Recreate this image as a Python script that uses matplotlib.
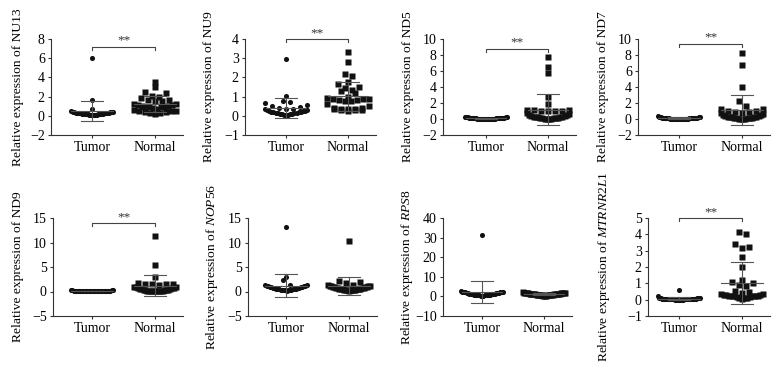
import matplotlib
matplotlib.use('Agg')
import matplotlib.pyplot as plt
import numpy as np

plt.rcParams['font.family'] = ['Liberation Serif', 'DejaVu Serif']
plt.rcParams['mathtext.fontset'] = 'custom'
plt.rcParams['mathtext.rm'] = 'Liberation Serif'
plt.rcParams['mathtext.it'] = 'Liberation Serif:italic'

groups = ['Tumor', 'Normal']

genes = ['NU13', 'NU9', 'ND5', 'ND7', 'ND9',
         r'$\mathit{NOP56}$', r'$\mathit{RPS8}$', r'$\mathit{MTRNR2L1}$']

# y tick ranges (min, max, step)
yticks_spec = [(-2, 8, 2), (-1, 4, 1), (-2, 10, 2), (-2, 10, 2),
               (-5, 15, 5), (-5, 15, 5), (-10, 40, 10), (-1, 5, 1)]

signif = [True, True, True, True, True, False, False, True]

nu13_tumor = [6.0, 1.6, 0.7, 0.45, 0.42, 0.4, 0.38, 0.36, 0.35, 0.33, 0.32, 0.3, 0.29, 0.28, 0.26, 0.25,
              0.24, 0.22, 0.21, 0.2, 0.19, 0.18, 0.17, 0.16, 0.15, 0.14, 0.13, 0.12, 0.11, 0.1, 0.08, 0.06]
nu13_normal = [3.5, 3.0, 2.5, 2.4, 2.1, 2.0, 1.9, 1.6, 1.6, 1.5, 1.5, 1.25, 1.2, 1.15, 1.1, 1.0,
               0.98, 0.95, 0.92, 0.9, 0.88, 0.85, 0.7, 0.6, 0.55, 0.5, 0.45, 0.4, 0.35, 0.3, 0.25, 0.2]

nu9_tumor = [2.95, 1.05, 0.78, 0.72, 0.65, 0.55, 0.5, 0.48, 0.42, 0.38, 0.35, 0.33, 0.3, 0.28, 0.27, 0.25,
             0.23, 0.22, 0.2, 0.19, 0.18, 0.16, 0.15, 0.14, 0.12, 0.11, 0.1, 0.09, 0.08, 0.06, 0.05, 0.04]
nu9_normal = [3.3, 2.8, 2.2, 2.05, 1.75, 1.65, 1.5, 1.45, 1.35, 1.3, 1.2, 1.0, 0.95, 0.9, 0.88, 0.85,
              0.82, 0.8, 0.78, 0.75, 0.6, 0.5, 0.42, 0.4, 0.38, 0.36, 0.35, 0.33, 0.32, 0.3, 0.28, 0.25]

nd5_tumor = [0.3, 0.28, 0.25, 0.22, 0.2, 0.18, 0.16, 0.15, 0.14, 0.13, 0.12, 0.11, 0.1, 0.09, 0.09, 0.08,
             0.07, 0.07, 0.06, 0.06, 0.05, 0.05, 0.04, 0.04, 0.03, 0.03, 0.02, 0.02, 0.02, 0.01, 0.01, 0.01]
nd5_normal = [7.8, 6.5, 5.7, 2.8, 1.9, 1.15, 1.1, 1.1, 1.05, 1.0, 1.0, 0.95, 0.7, 0.6, 0.5, 0.45,
              0.4, 0.35, 0.3, 0.28, 0.25, 0.22, 0.2, 0.18, 0.15, 0.12, 0.1, 0.08, 0.06, 0.05, 0.03, 0.02]

nd7_tumor = [0.35, 0.3, 0.25, 0.22, 0.2, 0.18, 0.17, 0.15, 0.14, 0.13, 0.12, 0.11, 0.1, 0.1, 0.09, 0.08,
             0.08, 0.07, 0.06, 0.06, 0.05, 0.05, 0.04, 0.04, 0.03, 0.03, 0.02, 0.02, 0.02, 0.01, 0.01, 0.01]
nd7_normal = [8.2, 6.8, 4.0, 2.3, 1.6, 1.3, 1.2, 1.0, 0.95, 0.9, 0.85, 0.8, 0.7, 0.6, 0.5, 0.45,
              0.4, 0.35, 0.3, 0.28, 0.25, 0.22, 0.2, 0.18, 0.15, 0.12, 0.1, 0.08, 0.06, 0.05, 0.03, 0.02]

nd9_tumor = [0.3, 0.28, 0.25, 0.22, 0.2, 0.18, 0.16, 0.15, 0.14, 0.13, 0.12, 0.11, 0.1, 0.09, 0.09, 0.08,
             0.07, 0.07, 0.06, 0.06, 0.05, 0.05, 0.04, 0.04, 0.03, 0.03, 0.02, 0.02, 0.02, 0.01, 0.01, 0.01]
nd9_normal = [11.3, 5.4, 3.0, 1.7, 1.6, 1.5, 1.5, 1.45, 1.4, 1.0, 0.9, 0.85, 0.8, 0.7, 0.65, 0.6,
              0.5, 0.45, 0.4, 0.35, 0.3, 0.3, 0.25, 0.2, 0.2, 0.15, 0.12, 0.1, 0.08, 0.05, 0.03, 0.02]

nop56_tumor = [13.2, 3.0, 2.3, 1.35, 1.3, 1.25, 1.2, 1.15, 1.1, 1.05, 1.0, 0.95, 0.9, 0.85, 0.8, 0.75,
               0.7, 0.65, 0.6, 0.55, 0.5, 0.5, 0.45, 0.45, 0.4, 0.4, 0.35, 0.35, 0.3, 0.3, 0.25, 0.2]
nop56_normal = [10.4, 2.1, 1.9, 1.8, 1.4, 1.25, 1.2, 1.15, 1.1, 1.05, 1.0, 0.95, 0.9, 0.85, 0.8, 0.75,
                0.7, 0.65, 0.6, 0.55, 0.5, 0.5, 0.45, 0.45, 0.4, 0.4, 0.35, 0.35, 0.3, 0.3, 0.25, 0.2]

rps8_tumor = [31.5, 2.6, 2.5, 2.4, 2.3, 2.2, 2.1, 2.0, 1.9, 1.8, 1.7, 1.6, 1.5, 1.4, 1.35, 1.3,
              1.2, 1.1, 1.0, 0.95, 0.9, 0.85, 0.8, 0.75, 0.7, 0.65, 0.6, 0.55, 0.5, 0.45, 0.4, 0.35]
rps8_normal = [2.0, 1.9, 1.85, 1.8, 1.75, 1.7, 1.6, 1.55, 1.5, 1.45, 1.4, 1.35, 1.3, 1.25, 1.2, 1.15,
               1.1, 1.05, 1.0, 0.95, 0.9, 0.85, 0.8, 0.75, 0.7, 0.65, 0.6, 0.55, 0.5, 0.45, 0.4, 0.35]

mtrnr_tumor = [0.6, 0.25, 0.12, 0.1, 0.09, 0.08, 0.08, 0.07, 0.07, 0.06, 0.06, 0.05, 0.05, 0.05, 0.04, 0.04,
               0.04, 0.03, 0.03, 0.03, 0.03, 0.02, 0.02, 0.02, 0.02, 0.01, 0.01, 0.01, 0.01, 0.01, 0.0, 0.0]
mtrnr_normal = [4.15, 4.05, 3.4, 3.25, 3.15, 2.6, 2.0, 1.2, 1.1, 1.0, 0.9, 0.85, 0.55, 0.45, 0.4, 0.35,
                0.3, 0.3, 0.25, 0.25, 0.2, 0.2, 0.15, 0.15, 0.1, 0.1, 0.08, 0.05, 0.3, 0.35, 0.25, 0.2]

tumor_vals = [nu13_tumor, nu9_tumor, nd5_tumor, nd7_tumor, nd9_tumor, nop56_tumor, rps8_tumor, mtrnr_tumor]
normal_vals = [nu13_normal, nu9_normal, nd5_normal, nd7_normal, nd9_normal, nop56_normal, rps8_normal, mtrnr_normal]

# layout in pixels: spine x, tumor x, normal x, top y, bottom y
layout = [(51, 92, 155, 39, 135), (245, 286, 348, 39, 135), (443, 486, 548, 39, 135), (638, 679, 742, 39, 135),
          (53, 92, 155, 218, 316), (248, 286, 349, 218, 316), (443, 482, 544, 218, 316), (648, 679, 742, 218, 316)]
label_off = [33, 36, 35, 35, 35, 36, 36, 44]   # px from spine to ylabel centre
bracket_y = [0.92, 1.0, 0.9, 0.95, 0.95, 1.0, 1.0, 1.0]

W, H = 779, 369
MK = 5.1  # marker size px
fig = plt.figure(figsize=(W / 100, H / 100), dpi=100)


def swarm(vals, bin_h, step, max_half):
    vals = np.asarray(vals, float)
    offs = np.zeros(len(vals))
    bins = np.floor(vals / bin_h).astype(int)
    for b in np.unique(bins):
        idx = np.where(bins == b)[0]
        idx = idx[np.argsort(vals[idx], kind='stable')]
        n = len(idx)
        d = step if n < 2 else min(step, 2 * max_half / (n - 1))
        slots = (np.arange(n) - (n - 1) / 2) * d
        order = sorted(range(n), key=lambda k: (abs(slots[k]), slots[k] < 0))
        for k, i in zip(order, idx):
            offs[i] = slots[k]
    return offs


for p in range(8):
    sx, tx, nx, ty, by = layout[p]
    pxu = nx - tx
    xl = -(tx - sx) / pxu
    xr = 1.45
    rx = nx + 0.45 * pxu
    ax = fig.add_axes([sx / W, 1 - by / H, (rx - sx) / W, (by - ty) / H])
    lo, hi, st = yticks_spec[p]
    ax.set_xlim(xl, xr)
    ax.set_ylim(lo, hi)
    ax.set_yticks(np.arange(lo, hi + st / 2, st))
    ax.set_xticks([0, 1])
    ax.set_xticklabels(groups)
    pyu = (by - ty) / (hi - lo)

    for g, (vals, mk) in enumerate([(tumor_vals[p], 'o'), (normal_vals[p], 's')]):
        v = np.asarray(vals, float)
        off = swarm(v, 1.25 * MK / pyu, 7 / pxu, 21 / pxu)
        ax.plot(g + off, v, ls='none', marker=mk, ms=MK * 0.72, mfc='#111111', mec='none', zorder=2,
                clip_on=False)
        m = v.mean()
        sd = v.std(ddof=1)
        lc = '#555555'
        ax.plot([g - 0.33, g + 0.33], [m, m], color=lc, lw=0.8, zorder=3)
        ax.plot([g - 0.17, g + 0.17], [m + sd, m + sd], color=lc, lw=0.8, zorder=3)
        ax.plot([g - 0.17, g + 0.17], [m - sd, m - sd], color=lc, lw=0.8, zorder=3)
        ax.plot([g, g], [m - sd, m + sd], color=lc, lw=0.8, zorder=3)

    if signif[p]:
        yb = lo + bracket_y[p] * (hi - lo)
        tk = 3 / pyu
        ax.plot([0, 0, 1, 1], [yb - tk, yb, yb, yb - tk], color='#444444', lw=0.8, clip_on=False)
        ax.annotate('**', xy=(0.5, yb), xytext=(0, 0), textcoords='offset points',
                    ha='center', va='bottom', fontsize=9.5, color='#333333')

    for s in ['top', 'right']:
        ax.spines[s].set_visible(False)
    for s in ['left', 'bottom']:
        ax.spines[s].set_color('#333333')
        ax.spines[s].set_linewidth(0.8)
    ax.tick_params(direction='out', length=2.5, width=0.8, color='#333333', labelsize=10, pad=2)
    ax.set_ylabel('Relative expression of ' + genes[p], fontsize=9.7)
    ax.yaxis.label.set_verticalalignment('center')
    ax.yaxis.set_label_coords(-label_off[p] / (rx - sx), 0.5)

fig.savefig('out.png', dpi=100)
